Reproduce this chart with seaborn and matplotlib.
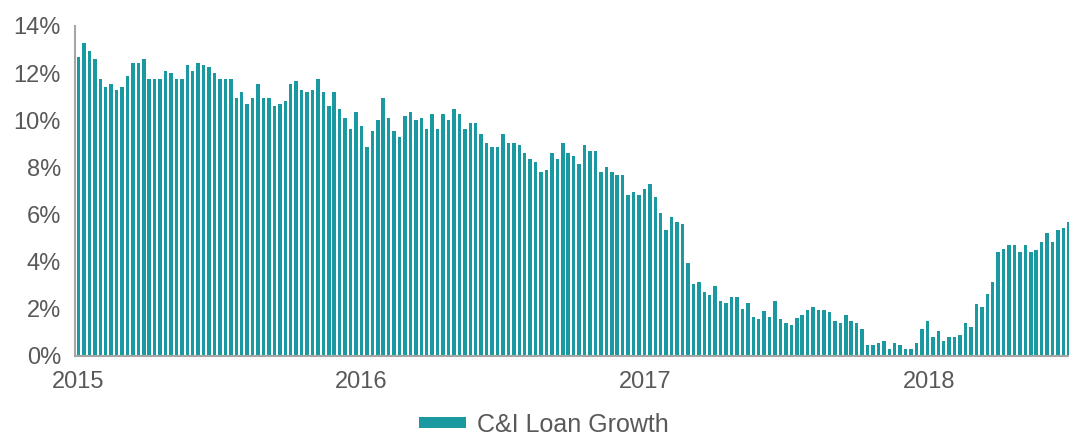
import pandas as pd
import matplotlib
matplotlib.use("Agg")
import matplotlib.pyplot as plt
import seaborn as sns
from matplotlib.patches import Patch

# Weekly year-over-year growth of commercial & industrial loans (%)
first_week = "2015-01-02"
growth_pct = [
    12.7, 13.3, 12.95, 12.6, 11.75, 11.4, 11.55, 11.3, 11.4, 11.9, 12.45, 12.45, 12.6, 11.75,
    11.75, 11.75, 12.1, 12.0, 11.75, 11.75, 12.35, 12.1, 12.45, 12.35, 12.25, 12.0, 11.75, 11.75,
    11.75, 10.95, 11.2,
    10.7, 10.95, 11.55, 10.95, 10.95, 10.6, 10.7, 10.8, 11.55, 11.65, 11.3, 11.2, 11.3, 11.75,
    11.2, 10.6, 11.2,
    10.5, 10.1, 9.65, 10.35, 9.75, 8.85, 9.55, 10.0, 10.95, 10.1, 9.55, 9.3, 10.2, 10.35, 10.0, 10.1,
    9.65, 10.25, 9.65, 10.25, 10.0, 10.5, 10.25, 9.65, 9.9, 9.9, 9.4, 9.05, 8.85, 8.85, 9.4, 9.05, 9.05,
    8.95, 8.6, 8.35, 8.25, 7.8, 7.9, 8.6, 8.35, 9.05, 8.6, 8.5, 8.15, 8.95, 8.7, 8.7, 7.8,
    8.0, 7.8, 7.7, 7.7, 6.85, 6.95, 6.85, 7.1, 7.3, 6.75, 6.05, 5.35, 5.9, 5.7, 5.6, 3.95, 3.05,
    3.15, 2.7, 2.6, 2.95, 2.35, 2.25, 2.5, 2.5, 2.0, 2.25, 1.65, 1.55, 1.9, 1.65, 2.35, 1.55,
    1.4, 1.3, 1.6, 1.75, 1.95, 2.1, 1.95, 1.95, 1.85, 1.5, 1.4, 1.75, 1.5, 1.4, 1.15, 0.45, 0.45,
    0.55, 0.65, 0.3, 0.55, 0.45, 0.3, 0.3, 0.55, 1.15, 1.5, 0.8, 1.05, 0.65, 0.8, 0.8, 0.9,
    1.4, 1.25, 2.2, 2.1, 2.65, 3.15, 4.4, 4.55, 4.7, 4.7, 4.4, 4.7, 4.4, 4.5, 4.85, 5.2, 4.85,
    5.35, 5.45, 5.7,
]
year_ticks = [2015, 2016, 2017, 2018]
year_labels = ["2015", "2016", "2017", "2018"]
pct_ticks = [0, 2, 4, 6, 8, 10, 12, 14]
pct_labels = ["0%", "2%", "4%", "6%", "8%", "10%", "12%", "14%"]
series_name = "C&I Loan Growth"

BAR = "#1A9AA0"
AXIS = "#A6A6A6"
TEXT = "#595959"

weeks = pd.date_range(first_week, periods=len(growth_pct), freq="7D")
frac_year = 2015 + (weeks - pd.Timestamp("2015-01-01")).days / 365.25
df = pd.DataFrame({"year": frac_year, "growth": growth_pct})

sns.set_theme(style="white")
plt.rcParams["font.family"] = ["Liberation Sans", "DejaVu Sans"]

fig = plt.figure(figsize=(10.69, 4.37), dpi=100)
ax = fig.add_axes([75 / 1069, 81 / 437, 1 - 75 / 1069, 330 / 437])

sns.barplot(data=df, x="year", y="growth", native_scale=True, color=BAR,
            saturation=1, width=0.64, linewidth=0, ax=ax)

ax.set_xlim(2014.9905, 2018.4912)
ax.set_ylim(0, 14)
ax.set_xticks(year_ticks)
ax.set_xticklabels(year_labels)
ax.set_yticks(pct_ticks)
ax.set_yticklabels(pct_labels)
ax.set_xlabel("")
ax.set_ylabel("")

for side in ("top", "right"):
    ax.spines[side].set_visible(False)
for side in ("left", "bottom"):
    ax.spines[side].set_color(AXIS)
    ax.spines[side].set_linewidth(1.5)

ax.tick_params(axis="both", which="major", colors=AXIS, labelcolor=TEXT,
               labelsize=17, direction="out", length=5, width=1.2)
ax.tick_params(axis="y", pad=5)
ax.tick_params(axis="x", pad=6)

handle = Patch(facecolor=BAR, edgecolor="none", label=series_name)
fig.legend(handles=[handle], loc="center", bbox_to_anchor=(0.509, 0.028),
           frameon=False, fontsize=18, labelcolor=TEXT,
           handlelength=1.85, handleheight=0.3, handletextpad=0.45,
           borderpad=0.1)

fig.savefig("out.png", dpi=100)
